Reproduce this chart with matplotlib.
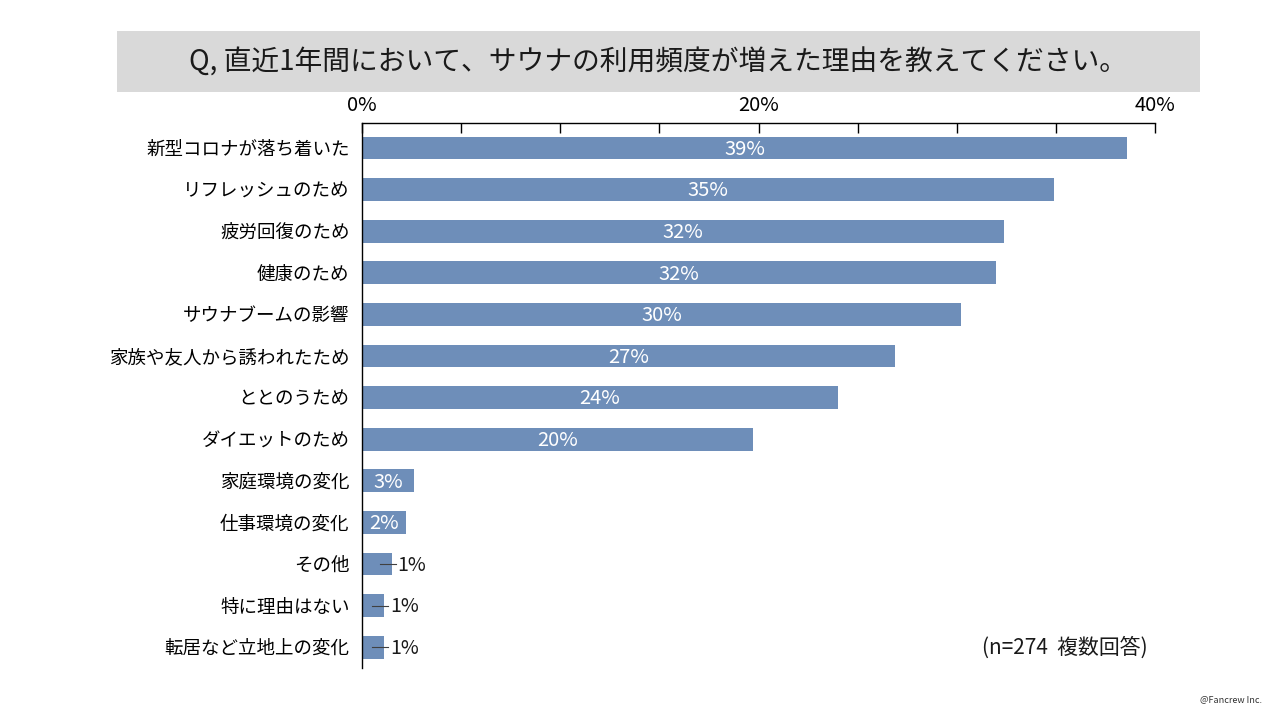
import matplotlib
matplotlib.use("Agg")
import matplotlib.pyplot as plt
from matplotlib.patches import Rectangle
from matplotlib.ticker import MultipleLocator

plt.rcParams['font.family'] = ['Noto Sans CJK JP', 'DejaVu Sans']

categories = ['新型コロナが落ち着いた', 'リフレッシュのため', '疲労回復のため', '健康のため',
              'サウナブームの影響', '家族や友人から誘われたため', 'ととのうため', 'ダイエットのため',
              '家庭環境の変化', '仕事環境の変化', 'その他', '特に理由はない', '転居など立地上の変化']
values = [38.6, 34.9, 32.4, 32.0, 30.2, 26.9, 24.0, 19.7, 2.6, 2.2, 1.5, 1.1, 1.1]
labels = ['39%', '35%', '32%', '32%', '30%', '27%', '24%', '20%', '3%', '2%', '1%', '1%', '1%']
tick_vals = [0, 20, 40]
tick_labels = ['0%', '20%', '40%']

title = 'Q, 直近1年間において、サウナの利用頻度が増えた理由を教えてください。'
note = '(n=274  複数回答)'
credit = '@Fancrew Inc.'

bar_color = '#6e8eb9'

fig = plt.figure(figsize=(12.8, 7.2), dpi=100)

# title band
fig.patches.append(Rectangle((117 / 1280, 1 - 92 / 720), (1200 - 117) / 1280, 61 / 720,
                             transform=fig.transFigure, facecolor='#d9d9d9', edgecolor='none'))
fig.text(0.514, 1 - 63 / 720, title, ha='center', va='center', fontsize=20, color='#1a1a1a')

ax = fig.add_axes([362 / 1280, 1 - 668 / 720, (1155 - 362) / 1280, (668 - 123) / 720])
ypos = list(range(len(categories)))
ax.barh(ypos, values, height=0.55, color=bar_color)
ax.set_xlim(0, 40)
ax.set_ylim(12.5, -0.6)

# ticks hang down from the top line
ax.xaxis.tick_top()
ax.set_xticks(tick_vals)
ax.set_xticklabels(tick_labels, fontsize=14.5)
ax.xaxis.set_minor_locator(MultipleLocator(5))
ax.tick_params(axis='x', which='both', direction='in', length=7, width=1,
               top=True, bottom=False, pad=5)

ax.set_yticks(ypos)
ax.set_yticklabels(categories, fontsize=13.3)
ax.tick_params(axis='y', length=0, pad=9)

for s in ['right', 'bottom']:
    ax.spines[s].set_visible(False)
ax.spines['top'].set_linewidth(1)
ax.spines['left'].set_linewidth(1)

for y, v, lab in zip(ypos, values, labels):
    if v >= 2:
        ax.text(v / 2, y + 0.03, lab, ha='center', va='center', color='white', fontsize=14.5)
    else:
        ax.plot([v - 0.6, v + 0.2], [y, y], color='#404040', lw=0.8)
        ax.text(v + 0.3, y + 0.03, lab, ha='left', va='center', color='#1a1a1a', fontsize=14)

fig.text(1148 / 1280, 1 - 648 / 720, note, ha='right', va='center', fontsize=15, color='#1a1a1a')
fig.text(1262 / 1280, 1 - 700 / 720, credit, ha='right', va='center', fontsize=6.5, color='#333333')

fig.savefig('out.png', dpi=100)
